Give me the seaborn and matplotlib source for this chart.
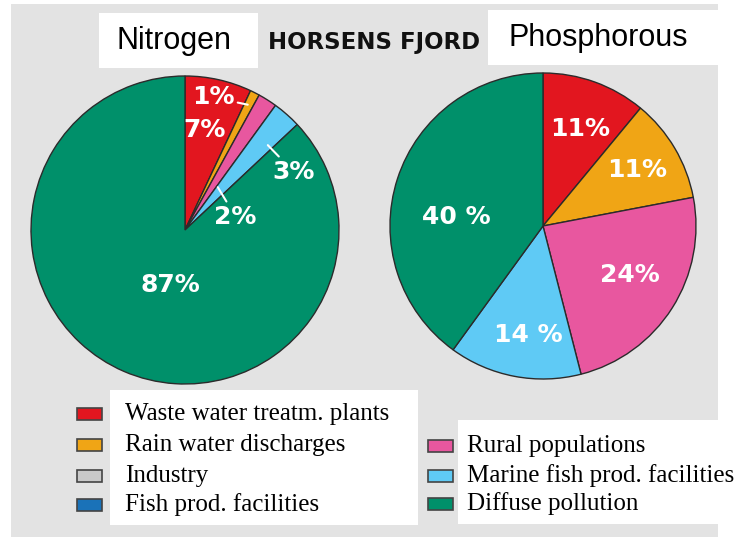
import numpy as np
import matplotlib.pyplot as plt
import seaborn as sns
from matplotlib.patches import Rectangle

# -----------------------------
# 1. Data
# -----------------------------
sources = [
    "Waste water treatm. plants",
    "Rain water discharges",
    "Industry",
    "Fish prod. facilities",
    "Rural populations",
    "Marine fish prod. facilities",
    "Diffuse pollution",
]
source_colors = ["#e2161f", "#f0a515", "#c9c9c9", "#1a72b8",
                 "#e8579f", "#5fcaf5", "#00906a"]

pie_sources = ["Waste water treatm. plants", "Rain water discharges",
               "Rural populations", "Marine fish prod. facilities",
               "Diffuse pollution"]
nitrogen_pct = [7, 1, 2, 3, 87]
phosphorus_pct = [11, 11, 24, 14, 40]
nitrogen_labels = ["7%", "1%", "2%", "3%", "87%"]
phosphorus_labels = ["11%", "11%", "24%", "14 %", "40 %"]

# label placement (polar: angle in degrees, radius as fraction of pie)
nitrogen_text_pos = [(78.7, 0.66), (78, 0.88), (14.6, 0.34), (28.2, 0.80), (-105, 0.37)]
nitrogen_leader = [None, (63.4, 0.91), (52.5, 0.35), (45.7, 0.77), None]
phosphorus_text_pos = [(69.1, 0.68), (30.8, 0.72), (-29.4, 0.65), (-97.8, 0.72), (174, 0.57)]

# -----------------------------
# 2. Basic setup
# -----------------------------
sns.set_theme(style="white")
W, H = 741, 537
fig = plt.figure(figsize=(W / 100, H / 100), dpi=100)
fig.patch.set_facecolor("white")


def fx(x):
    return x / W


def fy(y):
    return 1 - y / H


def box(x0, y0, x1, y1, color):
    fig.patches.append(Rectangle((fx(x0), fy(y1)), fx(x1) - fx(x0), fy(y0) - fy(y1),
                                 transform=fig.transFigure, facecolor=color,
                                 edgecolor="none", zorder=-5))


# grey panel + white label boxes
box(11, 4, 718, 537, "#e3e3e3")
box(99, 13, 258, 68, "white")
box(488, 10, 718, 65, "white")
box(110, 390, 418, 525, "white")
box(458, 420, 741, 524, "white")

color_of = dict(zip(sources, source_colors))
pie_colors = [color_of[s] for s in pie_sources]


def polar(a, r):
    return r * np.cos(np.radians(a)), r * np.sin(np.radians(a))


def draw_pie(cx, cy, r, values, labels, text_pos, leaders):
    ax = fig.add_axes([fx(cx - r), fy(cy + r), 2 * r / W, 2 * r / H])
    ax.pie(values, colors=pie_colors, startangle=90, counterclock=False,
           wedgeprops=dict(edgecolor="#2b2b2b", linewidth=1))
    ax.set_xlim(-1, 1)
    ax.set_ylim(-1, 1)
    ax.set_aspect("equal")
    for lab, pos, lead in zip(labels, text_pos, leaders):
        tx, ty = polar(*pos)
        if lead is None:
            ax.text(tx, ty, lab, ha="center", va="center", color="white",
                    fontsize=18, fontweight="bold", family="DejaVu Sans")
        else:
            ax.annotate(lab, xy=polar(*lead), xytext=(tx, ty), ha="center",
                        va="center", color="white", fontsize=18,
                        fontweight="bold", family="DejaVu Sans",
                        arrowprops=dict(arrowstyle="-", color="white", lw=1.5,
                                        shrinkA=0, shrinkB=0))
    return ax


# -----------------------------
# 3. Pies
# -----------------------------
draw_pie(185, 230, 154, nitrogen_pct, nitrogen_labels,
         nitrogen_text_pos, nitrogen_leader)
draw_pie(543, 226, 153, phosphorus_pct, phosphorus_labels,
         phosphorus_text_pos, [None] * 5)

# -----------------------------
# 4. Titles
# -----------------------------
fig.text(fx(174), fy(41), "Nitrogen", ha="center", va="center",
         fontsize=22, family="Liberation Sans", color="black")
fig.text(fx(598), fy(38), "Phosphorous", ha="center", va="center",
         fontsize=22, family="Liberation Sans", color="black")
fig.text(fx(374), fy(42), "HORSENS FJORD", ha="center", va="center",
         fontsize=16.5, fontweight="bold", family="DejaVu Sans", color="#111111")

# -----------------------------
# 5. Legend
# -----------------------------
left_rows = [414, 445, 476, 505]
right_rows = [446, 476, 504]
entries = list(zip(sources[:4], [77] * 4, [125] * 4, left_rows)) + \
    list(zip(sources[4:], [428] * 3, [467] * 3, right_rows))
for name, sx, tx, ry in entries:
    fig.patches.append(Rectangle((fx(sx), fy(ry + 6)), 25 / W, 12 / H,
                                 transform=fig.transFigure,
                                 facecolor=color_of[name], edgecolor="#444444",
                                 linewidth=1.2, zorder=5))
    fig.text(fx(tx), fy(ry), name, ha="left", va="center", fontsize=18,
             family="Liberation Serif", color="black")

plt.savefig("out.png", dpi=100, facecolor=fig.get_facecolor())
